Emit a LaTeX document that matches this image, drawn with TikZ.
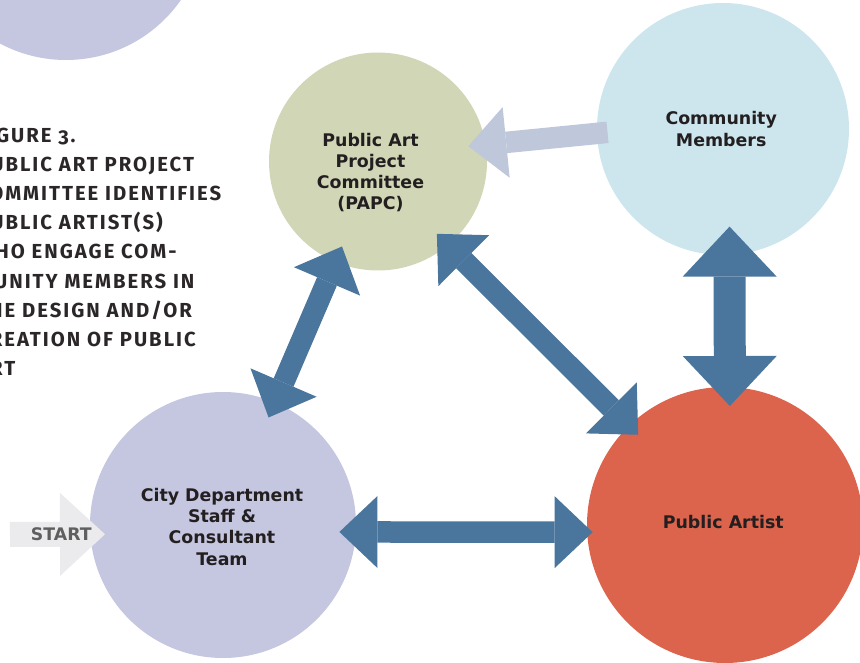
\documentclass[tikz,border=0pt]{standalone}
\usepackage{fontspec}
\setmainfont{DejaVu Sans}
\newfontfamily\capfont[Numbers=OldStyle,LetterSpace=9.8]{Fira Sans}
\usetikzlibrary{arrows.meta}
\definecolor{arrblue}{RGB}{74,117,156}
\definecolor{papcfill}{RGB}{209,214,182}
\definecolor{commfill}{RGB}{205,230,238}
\definecolor{cityfill}{RGB}{197,198,224}
\definecolor{artistfill}{RGB}{220,100,76}
\definecolor{lightblue}{RGB}{190,200,218}
\definecolor{startfill}{RGB}{235,235,237}
\definecolor{starttext}{RGB}{95,95,95}
\definecolor{txt}{RGB}{35,31,32}
\definecolor{captxt}{RGB}{43,38,39}
\tikzset{
  circ/.style={circle, inner sep=0pt, outer sep=0pt},
  lbl/.style={align=center, text=txt, inner sep=0pt, font=\fontsize{17.4}{21.2}\selectfont\bfseries},
  captionstyle/.style={align=left, text=captxt, inner sep=0pt, font=\capfont\fontsize{20.3}{29.16}\selectfont\bfseries},
  bluearr/.style={draw=arrblue, line width=21.5pt,
    arrows={Triangle[length=38pt,width=72pt,line width=0pt]-Triangle[length=38pt,width=72pt,line width=0pt]}},
  bigarr/.style={draw=arrblue, line width=32pt,
    arrows={Triangle[length=50pt,width=94pt,line width=0pt]-Triangle[length=50pt,width=94pt,line width=0pt]}},
  lightarr/.style={draw=lightblue, line width=21.5pt,
    arrows={-Triangle[length=38pt,width=71pt,line width=0pt]}},
  startarr/.style={draw=startfill, line width=25pt,
    arrows={-Triangle[length=45pt,width=83pt,line width=0pt]}}
}
\begin{document}
\begin{tikzpicture}[x=1pt,y=-1pt]
\useasboundingbox (0,0) rectangle (860,663);
\begin{scope}
\clip (0,0) rectangle (860,663);
% decorative partial circle
\node[circ, fill=cityfill, minimum size=280pt] (deco) at (66,-80) {};
% caption
\node[captionstyle, anchor=north west] (caption) at (-24,127.7)
  {FIGURE 3.\\PUBLIC ART PROJECT\\COMMITTEE IDENTIFIES\\PUBLIC ARTIST(S)\\WHO ENGAGE COM-\\MUNITY MEMBERS IN\\THE DESIGN AND/OR\\CREATION OF PUBLIC\\ART};
% circles
\node[circ, fill=papcfill, minimum size=218pt] (papc) at (378,161.5) {};
\node[circ, fill=commfill, minimum size=252pt] (comm) at (723,129) {};
\node[circ, fill=cityfill, minimum size=266pt] (city) at (223,525) {};
\node[circ, fill=artistfill, minimum size=276pt] (artist) at (725,525) {};
% labels
\node[lbl] (papcl) at (370.5,172.5) {Public Art\\Project\\Committee\\(PAPC)};
\node[lbl] (comml) at (721.2,129) {Community\\Members};
\node[lbl] (cityl) at (222,526.75) {City Department\\Staff \&\\Consultant\\Team};
\node[lbl] (artistl) at (723.3,521.9) {Public Artist};
% connectors
\draw[bluearr, shorten <=-16.4pt, shorten >=-5.4pt] (city.-3.97) -- (artist.183.82);
\draw[bluearr, shorten <=-16.2pt, shorten >=-16.7pt] (city.67.71) -- (papc.247.94);
\draw[bluearr, shorten <=-15.8pt, shorten >=-12.8pt] (papc.-50.17) -- (artist.134.68);
\draw[bigarr, shorten <=-28.2pt, shorten >=-18.9pt] (comm.-87.27) -- (artist.88.34);
\draw[lightarr, shorten <=-10.5pt, shorten >=-17.4pt] (comm.182.06) -- (papc.9.03);
\coordinate (startpt) at (10,534.5);
\draw[startarr, shorten >=-14.7pt] (startpt) -- (city.184.09);
\node[text=starttext, inner sep=0pt, font=\fontsize{17.3}{20}\selectfont\bfseries] (startl) at (61.3,534) {START};
\end{scope}
\end{tikzpicture}
\end{document}
